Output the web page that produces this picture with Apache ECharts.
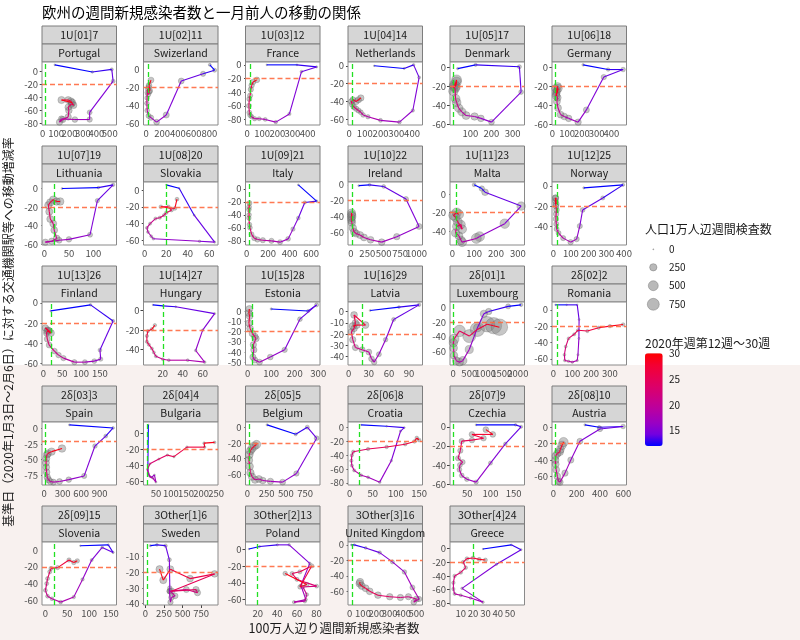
<!DOCTYPE html>
<html><head><meta charset="utf-8">
<script src="https://cdn.jsdelivr.net/npm/echarts@6/dist/echarts.min.js"></script>
<style>html,body{margin:0;padding:0;background:#fff}#c{width:800px;height:640px}</style>
</head><body><div id="c"></div>
<script>
// ---------------- DATA ----------------
const weeks = [12,13,14,15,16,17,18,19,20,21,22,23,24,25,26,27,28,29,30];
const countries = ['Portugal','Swizerland','France','Netherlands','Denmark','Germany','Lithuania','Slovakia','Italy','Ireland','Malta','Norway','Finland','Hungary','Estonia','Latvia','Luxembourg','Romania','Spain','Bulgaria','Belgium','Croatia','Czechia','Austria','Slovenia','Sweden','Poland','United Kingdom','Greece'];
const rankLabels = ['1U[01]7','1U[02]11','1U[03]12','1U[04]14','1U[05]17','1U[06]18','1U[07]19','1U[08]20','1U[09]21','1U[10]22','1U[11]23','1U[12]25','1U[13]26','1U[14]27','1U[15]28','1U[16]29','2δ[01]1','2δ[02]2','2δ[03]3','2δ[04]4','2δ[05]5','2δ[06]8','2δ[07]9','2δ[08]10','2δ[09]15','3Other[1]6','3Other[2]13','3Other[3]16','3Other[4]24'];

// x: weekly new cases per million, y: mobility change (one month before), t: weekly tests per 10k
const x_Portugal = [90,370,515,525,350,350,240,140,125,150,190,195,190,215,230,210,190,140,220];
const y_Portugal = [10,-1,3,-15,-63,-74,-74,-73,-78,-74,-70,-60,-55,-50,-52,-46,-44,-44,-48];
const t_Portugal = [4,12,30,55,95,120,140,160,175,170,185,200,190,210,205,225,215,240,230];
const x_Swizerland = [804,865,719,443,253,131,60,29,12,8,10,14,18,25,40,30,45,35,60];
const y_Swizerland = [5,-1,-5,-13,-51,-59,-54,-52,-46,-38,-32,-26,-22,-28,-25,-20,-24,-18,-12];
const t_Swizerland = [25,60,110,150,165,140,120,105,90,85,80,92,95,104,110,122,130,138,150];
const x_France = [130,330,460,360,280,190,120,80,50,30,20,15,12,15,20,25,30,40,65];
const y_France = [0,0,-3,-10,-72,-84,-80,-79,-79,-76,-74,-70,-60,-50,-45,-36,-30,-25,-22];
const t_France = [2,5,10,20,32,40,52,60,72,80,88,95,100,106,110,118,125,130,140];
const x_Netherlands = [160,350,410,445,405,320,200,120,90,75,60,45,30,20,15,25,45,60,75];
const y_Netherlands = [0,-3,1,-13,-50,-63,-61,-57,-55,-52,-50,-48,-46,-43,-40,-38,-40,-38,-36];
const t_Netherlands = [3,8,15,25,35,46,55,70,85,98,110,118,130,142,150,158,165,172,180];
const x_Denmark = [40,125,332,340,200,150,120,80,60,45,35,30,28,22,20,25,35,30,35];
const y_Denmark = [-1,3,1,-26,-58,-54,-52,-51,-47,-43,-37,-33,-22,-20,-25,-18,-15,-20,-13];
const t_Denmark = [10,30,60,90,140,200,260,300,330,350,380,400,420,430,445,460,470,480,500];
const x_Germany = [208,377,479,348,230,174,110,80,55,38,30,35,25,30,20,28,35,25,40];
const y_Germany = [3,-2,-2,-10,-45,-58,-54,-52,-50,-43,-36,-32,-28,-24,-22,-26,-20,-30,-22];
const t_Germany = [15,40,80,120,160,180,190,200,212,220,230,238,250,252,260,270,282,290,300];
const x_Lithuania = [36,110,140,108,93,50,30,2,15,25,20,18,12,10,8,12,18,25,32];
const y_Lithuania = [0,1,4,-13,-50,-55,-56,-58,-57,-54,-45,-38,-33,-25,-18,-15,-12,-14,-14];
const t_Lithuania = [5,15,40,70,100,130,150,170,180,200,210,220,230,240,250,255,262,270,280];
const x_Slovakia = [20,32,46,65,51,8,6,3,2,5,10,14,18,20,25,22,15,28,30];
const y_Slovakia = [6,2,-30,-62,-61,-58,-55,-50,-45,-40,-34,-33,-30,-27,-24,-20,-20,-22,-11];
const t_Slovakia = [1,3,6,10,14,18,20,22,25,28,30,32,35,38,40,42,45,48,50];
const x_Italy = [480,650,540,480,430,385,310,230,150,100,70,45,30,25,20,22,20,22,25];
const y_Italy = [6,-19,-21,-45,-62,-77,-82,-80,-79,-78,-76,-70,-60,-55,-45,-40,-32,-28,-22];
const t_Italy = [5,15,30,50,70,90,100,110,112,115,100,95,90,85,80,86,90,95,100];
const x_Ireland = [120,285,500,840,1040,700,470,300,200,140,80,50,30,15,10,8,12,10,15];
const y_Ireland = [-1,0,-2,-18,-53,-66,-73,-70,-67,-64,-62,-60,-55,-48,-45,-42,-38,-36,-40];
const t_Ireland = [5,20,50,100,150,180,200,210,222,230,240,250,262,270,280,290,300,310,320];
const x_Malta = [100,135,150,315,240,125,110,45,40,30,15,20,40,45,25,15,5,20,30];
const y_Malta = [10,6,2,-13,-32,-46,-48,-52,-50,-45,-42,-35,-33,-38,-30,-25,-23,-20,-22];
const t_Malta = [50,120,200,350,450,480,500,400,350,300,320,340,360,380,400,420,430,440,450];
const x_Norway = [173,395,280,166,150,132,98,56,30,19,17,15,16,18,15,12,14,16,12];
const y_Norway = [-2,1,-12,-24,-40,-53,-56,-52,-47,-43,-38,-33,-28,-24,-20,-15,-12,-18,-12];
const t_Norway = [10,30,60,90,110,120,118,110,100,102,110,120,130,140,148,150,160,162,170];
const x_Finland = [19,125,185,150,152,135,110,82,53,40,29,15,10,8,12,5,15,20,10];
const y_Finland = [-8,-2,-18,-47,-56,-58,-59,-59,-55,-52,-48,-42,-36,-30,-27,-25,-28,-30,-28];
const t_Finland = [5,15,30,50,70,90,100,110,120,130,140,150,160,170,180,190,200,210,220];
const x_Hungary = [10,20,33,72,60,53,62,45,26,20,13,11,9,6,4,4,5,9,12];
const y_Hungary = [6,5,4,-3,-20,-41,-53,-51,-51,-50,-47,-43,-39,-35,-32,-26,-21,-19,-15];
const t_Hungary = [1,2,5,8,12,15,18,20,22,24,25,26,28,30,32,34,35,36,38];
const x_Estonia = [100,257,293,222,157,96,50,30,22,26,24,35,30,20,10,5,8,5,7];
const y_Estonia = [2,0,6,-8,-38,-45,-50,-48,-45,-38,-33,-27,-25,-22,-17,-12,-5,-2,2];
const t_Estonia = [10,30,60,90,120,140,150,160,170,180,182,190,195,200,205,210,212,220,222];
const x_Latvia = [32,75,105,67,55,45,38,34,30,20,10,6,4,8,10,8,25,12,6];
const y_Latvia = [1,4,6,-7,-25,-38,-45,-42,-36,-34,-32,-25,-18,-15,-10,-3,-12,-12,-13];
const t_Latvia = [5,20,40,60,80,100,120,140,150,160,170,180,190,198,202,210,220,230,240];
const x_Luxembourg = [2100,1700,1100,950,750,500,300,200,100,30,15,10,30,200,500,750,1050,1250,1430];
const y_Luxembourg = [3,1,-6,-9,-28,-57,-72,-74,-72,-65,-55,-48,-43,-32,-39,-30,-23,-25,-27];
const t_Luxembourg = [40,100,180,250,300,320,340,300,280,260,300,350,500,700,900,1100,1300,1450,1500];
const x_Romania = [10,70,126,136,135,130,126,100,80,60,58,65,80,110,130,180,240,300,370];
const y_Romania = [6,6,6,-12,-35,-55,-62,-64,-63,-62,-55,-45,-35,-30,-25,-26,-22,-20,-18];
const t_Romania = [1,2,4,6,8,10,12,14,16,18,20,22,25,28,30,32,35,38,40];
const x_Spain = [410,1120,1000,825,650,400,250,150,100,70,50,40,35,30,35,45,60,120,290];
const y_Spain = [6,1,-12,-28,-76,-82,-85,-86,-85,-82,-78,-70,-62,-55,-48,-42,-40,-37,-32];
const t_Spain = [5,20,50,80,110,130,150,160,170,180,190,200,210,220,230,240,250,260,270];
const x_Bulgaria = [25,24,23,28,35,45,50,40,30,25,22,30,60,88,110,153,212,210,245];
const y_Bulgaria = [11,-20,-47,-53,-55,-52,-61,-56,-54,-50,-45,-38,-32,-27,-29,-17,-17,-12,-11];
const t_Bulgaria = [1,2,2,3,4,5,6,6,7,8,9,10,10,12,13,14,15,16,18];
const x_Belgium = [257,628,779,900,638,458,300,200,150,100,60,40,30,20,25,40,60,90,120];
const y_Belgium = [3,-9,0,-14,-59,-70,-69,-68,-66,-67,-63,-58,-50,-42,-35,-30,-27,-24,-22];
const t_Belgium = [10,30,60,90,120,150,180,200,220,240,250,260,270,280,290,300,310,320,330];
const x_Croatia = [25,80,118,110,90,65,40,25,10,5,4,5,8,40,80,120,140,145,150];
const y_Croatia = [4,2,0,-5,-48,-79,-72,-69,-62,-55,-48,-40,-35,-31,-28,-24,-20,-15,-18];
const t_Croatia = [1,3,6,10,14,18,22,25,28,30,32,34,36,38,40,42,44,46,48];
const x_Czechia = [69,154,166,132,100,69,49,38,33,34,40,30,35,38,60,85,60,105,90];
const y_Czechia = [2,2,0,-18,-38,-58,-55,-51,-45,-40,-37,-33,-25,-15,-14,-12,-8,-8,-3];
const t_Czechia = [5,15,30,45,60,70,80,90,95,100,105,110,115,120,125,130,135,140,145];
const x_Austria = [271,393,598,400,228,150,100,57,45,35,25,20,18,20,35,55,60,75,88];
const y_Austria = [3,0,1,-2,-17,-40,-56,-67,-66,-60,-52,-45,-40,-35,-32,-30,-27,-22,-18];
const t_Austria = [10,40,80,120,150,170,180,190,200,210,220,230,240,250,260,280,300,350,420];
const x_Slovenia = [80,144,155,130,106,85,65,35,15,5,0,3,5,10,13,28,54,65,73];
const y_Slovenia = [5,6,-3,3,-12,-35,-56,-62,-58,-55,-48,-40,-34,-26,-22,-21,-12,-15,-13];
const t_Slovenia = [2,6,12,20,28,35,40,45,50,52,55,58,60,62,65,68,70,72,75];
const x_Sweden = [66,155,271,322,328,322,337,350,400,330,550,700,680,350,930,600,335,240,190];
const y_Sweden = [-3,-2.5,-3,-12,-30,-32,-39,-36,-35,-32,-31,-33,-31,-32,-21,-24,-18,-25,-18];
const t_Sweden = [10,20,40,60,80,100,120,130,140,150,160,170,180,190,200,210,220,230,240];
const x_Poland = [11,22,40,52,73,64,69,57,68,70,66,80,60,55,63,75,63,70,48];
const y_Poland = [0,3,5,5,-17,-43,-60,-63,-62,-54,-45,-44,-36,-29,-27,-20,-45,-42,-29];
const t_Poland = [2,5,10,15,20,25,30,35,40,45,50,55,60,62,65,70,72,75,80];
const x_UK = [13,35,120,225,320,410,470,520,480,500,440,380,300,212,150,119,90,74,78];
const y_UK = [0,0,-4,-10,-22,-35,-55,-70,-74,-70,-67,-68,-67,-65,-60,-56,-53,-50,-48];
const t_UK = [5,10,20,40,60,80,100,120,140,160,170,180,190,200,210,220,230,240,250];
const x_Greece = [28,51,59,39,11,28,18,10,5,4,4,5,10,14,12,15,20,25,30];
const y_Greece = [-1,5,-2,-23,-58,-78,-72,-68,-66,-59,-50,-40,-35,-28,-20,-15,-14,-16,-17];
const t_Greece = [2,5,8,12,15,18,20,25,30,35,38,40,42,45,48,50,52,55,58];

const xBreaks = [[0,100,200,300,400,500],[0,200,400,600,800],[0,100,200,300,400],[0,100,200,300,400],[100,200,300],[0,100,200,300,400],
  [0,50,100],[0,20,40,60],[0,200,400,600],[0,250,500,750,1000],[0,100,200,300],[0,100,200,300,400],
  [0,50,100,150],[0,20,40,60],[0,100,200,300],[0,30,60,90],[0,500,1000,1500,2000],[0,100,200,300],
  [0,300,600,900],[50,100,150,200,250],[0,250,500,750],[0,50,100,150],[50,100,150],[0,200,400,600],
  [0,50,100,150],[0,250,500,750],[20,40,60,80],[0,100,200,300,400,500],[10,20,30,40,50]];
const yBreaks = [[0,-20,-40,-60,-80],[0,-20,-40,-60],[0,-20,-40,-60,-80],[0,-20,-40,-60],[0,-20,-40,-60],[0,-20,-40,-60],
  [0,-20,-40,-60],[0,-20,-40,-60],[0,-20,-40,-60,-80],[0,-20,-40,-60],[0,-20,-40],[0,-20,-40],
  [0,-20,-40,-60],[0,-20,-40],[0,-10,-20,-30,-40,-50],[0,-10,-20,-30,-40],[0,-20,-40,-60],[0,-20,-40,-60],
  [0,-25,-50,-75],[0,-20,-40,-60],[0,-20,-40,-60],[0,-20,-40,-60,-80],[0,-20,-40,-60],[0,-20,-40,-60],
  [0,-20,-40,-60],[-10,-20,-30,-40],[0,-20,-40,-60],[0,-20,-40,-60],[0,-20,-40,-60,-80]];
const sizeLegendValues = [0,250,500,750];
const colorLegendTicks = [30,25,20,15];
const refCases = 20, refMobility = -20;

// ---------------- BUILD ----------------
const casesList = [x_Portugal,x_Swizerland,x_France,x_Netherlands,x_Denmark,x_Germany,x_Lithuania,x_Slovakia,x_Italy,x_Ireland,x_Malta,x_Norway,x_Finland,x_Hungary,x_Estonia,x_Latvia,x_Luxembourg,x_Romania,x_Spain,x_Bulgaria,x_Belgium,x_Croatia,x_Czechia,x_Austria,x_Slovenia,x_Sweden,x_Poland,x_UK,x_Greece];
const mobList = [y_Portugal,y_Swizerland,y_France,y_Netherlands,y_Denmark,y_Germany,y_Lithuania,y_Slovakia,y_Italy,y_Ireland,y_Malta,y_Norway,y_Finland,y_Hungary,y_Estonia,y_Latvia,y_Luxembourg,y_Romania,y_Spain,y_Bulgaria,y_Belgium,y_Croatia,y_Czechia,y_Austria,y_Slovenia,y_Sweden,y_Poland,y_UK,y_Greece];
const testsList = [t_Portugal,t_Swizerland,t_France,t_Netherlands,t_Denmark,t_Germany,t_Lithuania,t_Slovakia,t_Italy,t_Ireland,t_Malta,t_Norway,t_Finland,t_Hungary,t_Estonia,t_Latvia,t_Luxembourg,t_Romania,t_Spain,t_Bulgaria,t_Belgium,t_Croatia,t_Czechia,t_Austria,t_Slovenia,t_Sweden,t_Poland,t_UK,t_Greece];

const FONT = '"Noto Sans CJK JP","Noto Sans",sans-serif';
const colX = [42,143.5,245.5,348,450,552];
const rowY = [26,146,266,386,506];
const panelW = 74.5, stripH = 18, plotH = 63;
const gradColors = ['#0000FF','#7300E0','#9A00C3','#B500A5','#C90089','#DA006C','#E8004F','#F40031','#FF0000'];
const sizeOf = t => 1 + 0.4*Math.sqrt(Math.max(t,0));

function limits(vals, ref){
  const lo = Math.min(...vals, ref), hi = Math.max(...vals, ref);
  const d = (hi-lo)*0.05; return [lo-d, hi+d];
}
function minors(br, lim){
  const b = br.slice().sort((a,b)=>a-b); const step = b[1]-b[0]; const out=[];
  for (let v=b[0]-step; v<=b[b.length-1]+step; v+=step){ const m=v+step/2; if(m>lim[0]&&m<lim[1]) out.push(m); }
  return out;
}

const grids=[], xAxes=[], yAxes=[], series=[], customIdx=[], graphics=[];
graphics.push({type:'rect', z:-100, shape:{x:0,y:365,width:800,height:275}, style:{fill:'#f8f1ef'}});

countries.forEach((name,i)=>{
  const col=i%6, row=Math.floor(i/6);
  const left=colX[col], top=rowY[row]+2*stripH;
  grids.push({left:left, top:top, width:panelW, height:plotH, show:true, backgroundColor:'#fff', borderColor:'#8a8a8a', borderWidth:1, z:1});
  const xs=casesList[i], ys=mobList[i], ts=testsList[i];
  const xl=limits(xs, refCases), yl=limits(ys, refMobility);
  const lab = {fontSize:9.5, color:'#4d4d4d', fontFamily:FONT, showMinLabel:true, showMaxLabel:true, hideOverlap:false, formatter:v=>String(v)};
  const xb = xBreaks[i];
  const xEven = xb.filter((v,k)=>k%2===0), xOdd = xb.filter((v,k)=>k%2===1);
  // major x axis: ticks at all breaks, labels at every other break
  xAxes.push({type:'value', gridIndex:i, min:xl[0], max:xl[1], position:'bottom',
    axisLine:{show:false}, axisTick:{show:true, length:3, lineStyle:{color:'#444'}, customValues:xb},
    axisLabel:Object.assign({customValues:xEven, margin:4}, lab),
    splitLine:{show:true, lineStyle:{color:'#e6e6e6', width:1}}});
  // second x axis: minor grid lines + remaining labels
  xAxes.push({type:'value', gridIndex:i, min:xl[0], max:xl[1], position:'bottom',
    axisLine:{show:false}, axisTick:{show:false, customValues:minors(xb, xl)},
    axisLabel:Object.assign({show:xOdd.length>0, customValues:xOdd.length?xOdd:[xb[0]], margin:4}, lab),
    splitLine:{show:true, lineStyle:{color:'#f3f3f3', width:1}}});
  yAxes.push({type:'value', gridIndex:i, min:yl[0], max:yl[1], position:'left',
    axisLine:{show:false}, axisTick:{show:true, length:3, lineStyle:{color:'#444'}, customValues:yBreaks[i]},
    axisLabel:Object.assign({customValues:yBreaks[i], margin:4}, lab),
    splitLine:{show:true, lineStyle:{color:'#e6e6e6', width:1}}});
  yAxes.push({type:'value', gridIndex:i, min:yl[0], max:yl[1], position:'right',
    axisLine:{show:false}, axisTick:{show:false, customValues:minors(yBreaks[i], yl)}, axisLabel:{show:false},
    splitLine:{show:true, lineStyle:{color:'#f3f3f3', width:1}}});

  series.push({type:'scatter', xAxisIndex:2*i, yAxisIndex:2*i, silent:true, z:2,
    data: xs.map((x,k)=>[x, ys[k], ts[k]]),
    symbolSize: v=>sizeOf(v[2]),
    itemStyle:{color:'rgba(128,128,128,0.55)', borderColor:'rgba(80,80,80,0.55)', borderWidth:0.6},
    markLine:{silent:true, symbol:'none', animation:false, label:{show:false},
      data:[{yAxis:refMobility, lineStyle:{color:'#ff6a40', type:[5,3], width:1.3, opacity:0.9}},
            {xAxis:refCases, lineStyle:{color:'#22e022', type:[5,3], width:1.3, opacity:1}}]}});
  const segs=[];
  for(let k=0;k<xs.length-1;k++) segs.push([xs[k], ys[k], xs[k+1], ys[k+1], weeks[k]]);
  customIdx.push(series.length);
  series.push({type:'custom', xAxisIndex:2*i, yAxisIndex:2*i, silent:true, z:3, data:segs,
    encode:{x:[0,2], y:[1,3]},
    renderItem:(params, api)=>{
      const p1=api.coord([api.value(0), api.value(1)]), p2=api.coord([api.value(2), api.value(3)]);
      return {type:'line', shape:{x1:p1[0],y1:p1[1],x2:p2[0],y2:p2[1]}, style:{stroke:api.visual('color'), lineWidth:1.1}};
    }});

  // strips
  [rankLabels[i], name].forEach((txt,s)=>{
    graphics.push({type:'rect', shape:{x:left, y:rowY[row]+s*stripH, width:panelW, height:stripH},
      style:{fill:'#d6d6d6', stroke:'#7d7d7d', lineWidth:1}});
    graphics.push({type:'text', x:left+panelW/2, y:rowY[row]+s*stripH+stripH/2+0.5,
      style:{text:txt, fontSize:10.5, fill:'#1a1a1a', fontFamily:FONT, align:'center', verticalAlign:'middle'}});
  });
});

// axis titles
graphics.push({type:'text', x:8, y:332, rotation:Math.PI/2,
  style:{text:'基準日（2020年1月3日〜2月6日）に対する交通機関駅等への移動増減率', fontSize:12, fill:'#1a1a1a', fontFamily:FONT, align:'center', verticalAlign:'middle'}});
graphics.push({type:'text', x:334, y:628,
  style:{text:'100万人辺り週間新規感染者数', fontSize:12.5, fill:'#1a1a1a', fontFamily:FONT, align:'center', verticalAlign:'middle'}});

// size legend
graphics.push({type:'text', x:645, y:229, style:{text:'人口1万人辺週間検査数', fontSize:12, fill:'#1a1a1a', fontFamily:FONT, align:'left', verticalAlign:'middle'}});
const sizeY=[249.3,267.3,285.7,304.3];
sizeLegendValues.forEach((v,k)=>{
  graphics.push({type:'circle', shape:{cx:653.3, cy:sizeY[k], r:sizeOf(v)/2}, style:{fill:'rgba(128,128,128,0.55)', stroke:'rgba(80,80,80,0.55)', lineWidth:0.6}});
  graphics.push({type:'text', x:669, y:sizeY[k], style:{text:String(v), fontSize:10, fill:'#1a1a1a', fontFamily:FONT, align:'left', verticalAlign:'middle'}});
});
// color legend
graphics.push({type:'text', x:645, y:343, style:{text:'2020年週第12週〜30週', fontSize:12, fill:'#1a1a1a', fontFamily:FONT, align:'left', verticalAlign:'middle'}});
const barTop=353.3, barH=92.7, wMin=12, wMax=30;
colorLegendTicks.forEach(v=>{
  const y=barTop+(wMax-v)*barH/(wMax-wMin);
  graphics.push({type:'text', x:669, y:y, style:{text:String(v), fontSize:10, fill:'#1a1a1a', fontFamily:FONT, align:'left', verticalAlign:'middle'}});
});

const chart = echarts.init(document.getElementById('c'), null, {renderer:'canvas'});
chart.setOption({
  animation:false,
  backgroundColor:'#fff',
  title:{text:'欧州の週間新規感染者数と一月前人の移動の関係', left:42, top:5, padding:0,
    textStyle:{fontSize:14.5, fontWeight:'normal', color:'#000', fontFamily:FONT}},
  grid:grids, xAxis:xAxes, yAxis:yAxes, series:series,
  visualMap:{type:'continuous', min:wMin, max:wMax, dimension:4, seriesIndex:customIdx,
    inRange:{color:gradColors}, calculable:false, realtime:false, text:null, showLabel:false,
    left:645, top:barTop, padding:0, itemWidth:17.7, itemHeight:barH, orient:'vertical'},
  graphic:graphics
});
</script></body></html>
